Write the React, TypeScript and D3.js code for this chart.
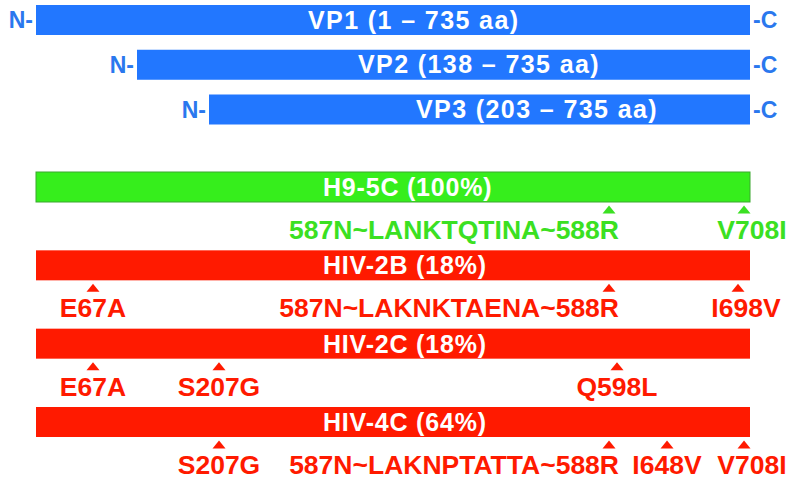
import React from "react";
import * as d3 from "d3";

// ---------- data ----------
const proteinNames = ["VP1", "VP2", "VP3"];
const proteinStarts = [1, 138, 203];
const proteinEnd = 735;

const variantNames = ["H9-5C", "HIV-2B", "HIV-2C", "HIV-4C"];
const variantPercents = [100, 18, 18, 64];

const mutVariant = ["H9-5C", "H9-5C", "HIV-2B", "HIV-2B", "HIV-2B", "HIV-2C", "HIV-2C", "HIV-2C", "HIV-4C", "HIV-4C", "HIV-4C", "HIV-4C"];
const mutPos = [588, 708, 67, 588, 698, 67, 207, 598, 207, 588, 648, 708];
const mutLabel = [
  "587N~LANKTQTINA~588R", "V708I",
  "E67A", "587N~LAKNKTAENA~588R", "I698V",
  "E67A", "S207G", "Q598L",
  "S207G", "587N~LAKNPTATTA~588R", "I648V", "V708I",
];

// ---------- style ----------
const W = 800, H = 490;
const BLUE = "#2277ff";
const BLUE_TXT = "#2a78ee";
const GREEN = "#36ee1c";
const GREEN_STROKE = "#3aa82e";
const GREEN_TXT = "#3be022";
const RED = "#ff1a00";
const FONT = "'Liberation Sans', Arial, Helvetica, sans-serif";

// schematic (not-to-scale) amino-acid axis, piecewise linear
const x = d3
  .scaleLinear()
  .domain([1, 67, 138, 203, 207, 588, 598, 648, 698, 708, 735])
  .range([36, 93, 137, 209, 219, 609, 617, 667, 738, 744, 750]);

const yP = d3.scaleLinear().domain([0, 2]).range([5, 94.5]);
const yV = d3.scaleLinear().domain([0, 3]).range([172, 407]);
const barH = 30;

const proteinLabelX = [308, 358, 416];
const variantLabelX = 323;

export default function App() {
  return (
    <svg
      width={W}
      height={H}
      viewBox={`0 0 ${W} ${H}`}
      style={{ position: "absolute", left: 0, top: 0, background: "#fff" }}
      fontFamily={FONT}
      fontWeight="bold"
    >
      {proteinNames.map((name, i) => {
        const y0 = yP(i);
        const xs = x(proteinStarts[i]);
        const xe = x(proteinEnd);
        const cy = y0 + barH / 2;
        return (
          <g key={name}>
            <rect x={xs} y={y0} width={xe - xs} height={barH} fill={BLUE} />
            <text x={xs - 3} y={cy + 8} textAnchor="end" fontSize={23} fill={BLUE_TXT}>
              N-
            </text>
            <text x={xe + 3} y={cy + 8} textAnchor="start" fontSize={23} fill={BLUE_TXT}>
              -C
            </text>
            <text
              x={proteinLabelX[i]}
              y={cy + 8.5}
              fontSize={25}
              letterSpacing={1.4}
              fill="#fff"
            >
              {`${name} (${proteinStarts[i]} – ${proteinEnd} aa)`}
            </text>
          </g>
        );
      })}

      {variantNames.map((name, i) => {
        const y0 = yV(i);
        const xs = x(1);
        const xe = x(proteinEnd);
        const isRef = i === 0;
        const fill = isRef ? GREEN : RED;
        const txt = isRef ? GREEN_TXT : RED;
        const muts = mutVariant
          .map((v, k) => ({ v, pos: mutPos[k], label: mutLabel[k] }))
          .filter((m) => m.v === name);
        return (
          <g key={name}>
            <rect
              x={xs}
              y={y0}
              width={xe - xs}
              height={barH}
              fill={fill}
              stroke={isRef ? GREEN_STROKE : "none"}
              strokeWidth={1}
            />
            <text
              x={variantLabelX}
              y={y0 + barH / 2 + 9}
              fontSize={25}
              letterSpacing={0.8}
              fill="#fff"
            >
              {`${name} (${variantPercents[i]}%)`}
            </text>
            {muts.map((m, k) => {
              const mx = x(m.pos);
              const tTop = y0 + barH + 3.5;
              const tri = d3.path();
              tri.moveTo(mx, tTop);
              tri.lineTo(mx + 6.5, tTop + 8);
              tri.lineTo(mx - 6.5, tTop + 8);
              tri.closePath();
              const long = m.label.includes("~");
              const anchor = long ? "end" : "middle";
              const dx = long ? 10 : m.pos >= 690 ? 8 : 0;
              return (
                <g key={k}>
                  <path d={tri.toString()} fill={txt} />
                  <text
                    x={mx + dx}
                    y={y0 + barH + 37}
                    textAnchor={anchor}
                    fontSize={26.5}
                    fill={txt}
                  >
                    {m.label}
                  </text>
                </g>
              );
            })}
          </g>
        );
      })}
    </svg>
  );
}
